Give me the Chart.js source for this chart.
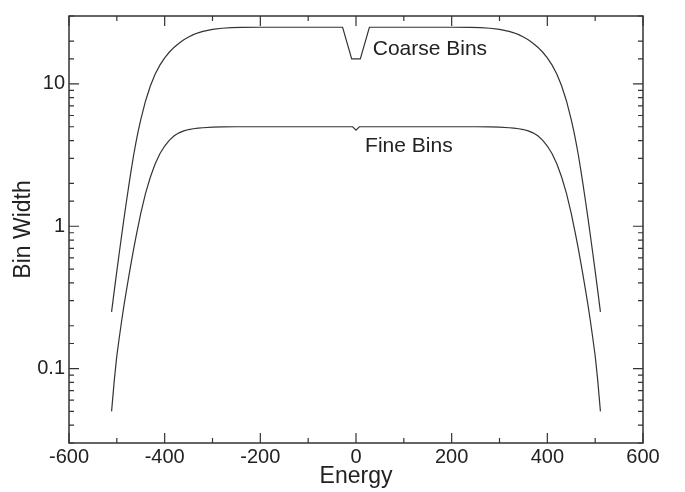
<!DOCTYPE html>
<html>
<head>
<meta charset="utf-8">
<script src="https://cdn.jsdelivr.net/npm/chart.js@4"></script>
<style>
  html, body { margin: 0; padding: 0; background: #fff; }
  #wrap { width: 685px; height: 492px; }
</style>
</head>
<body>
<div id="wrap"><canvas id="binChart" width="685" height="492"></canvas></div>
<script>
// values (energy vs bin width, log y)
const coarseEnergy = [-511, -505, -500, -495, -490, -485, -480, -475, -470, -465, -460, -455, -450, -440, -430, -420, -410, -400, -390, -380, -370, -360, -350, -340, -330, -320, -300, -280, -260, -240, -200, -150, -100, -50, -28, -9,
  9, 28, 50, 100, 150, 200, 240, 260, 280, 300, 320, 330, 340, 350, 360, 370, 380, 390, 400, 410, 420, 430, 440, 450, 455, 460, 465, 470, 475, 480, 485, 490, 495, 500, 505, 511];
const coarseWidth = [0.25, 0.36, 0.484, 0.646, 0.861, 1.135, 1.486, 1.93, 2.48, 3.14, 3.89, 4.72, 5.62, 7.59, 9.66, 11.69, 13.55, 15.24, 16.75, 18.11, 19.32, 20.42, 21.38, 22.18, 22.86, 23.39, 24.15, 24.6, 24.83, 24.94, 25, 25, 25, 25, 25, 15,
  15, 25, 25, 25, 25, 25, 24.94, 24.83, 24.6, 24.15, 23.39, 22.86, 22.18, 21.38, 20.42, 19.32, 18.11, 16.75, 15.24, 13.55, 11.69, 9.66, 7.59, 5.62, 4.72, 3.89, 3.14, 2.48, 1.93, 1.486, 1.135, 0.861, 0.646, 0.484, 0.36, 0.25];

const fineEnergy = [-511, -505, -500, -495, -490, -485, -480, -475, -470, -465, -460, -450, -440, -430, -420, -410, -400, -390, -380, -370, -360, -350, -340, -330, -320, -300, -280, -250, -200, -100, -7, 0,
  7, 100, 200, 250, 280, 300, 320, 330, 340, 350, 360, 370, 380, 390, 400, 410, 420, 430, 440, 450, 460, 465, 470, 475, 480, 485, 490, 495, 500, 505, 511];
const fineWidth = [0.05, 0.085, 0.123, 0.164, 0.216, 0.279, 0.353, 0.445, 0.556, 0.689, 0.841, 1.23, 1.70, 2.21, 2.74, 3.23, 3.66, 4.03, 4.32, 4.53, 4.68, 4.78, 4.84, 4.89, 4.92, 4.97, 4.99, 5, 5, 5, 5, 4.73,
  5, 5, 5, 5, 4.99, 4.97, 4.92, 4.89, 4.84, 4.78, 4.68, 4.53, 4.32, 4.03, 3.66, 3.23, 2.74, 2.21, 1.70, 1.23, 0.841, 0.689, 0.556, 0.445, 0.353, 0.279, 0.216, 0.164, 0.123, 0.085, 0.05];

const curveLabels = ['Coarse Bins', 'Fine Bins'];
const curveLabelX = [35, 19];
const curveLabelY = [17.4, 3.68];

const FONT = '"Liberation Sans", Arial, Helvetica, sans-serif';
const INK = '#222';

function toPoints(xs, ys) {
  return xs.map((x, i) => ({ x: x, y: ys[i] }));
}

function isDecade(v) {
  const l = Math.log10(v);
  return Math.abs(l - Math.round(l)) < 1e-6;
}

// frame + inward ticks on all four sides, curve captions
const framePlugin = {
  id: 'frame',
  afterDraw(chart) {
    const { ctx, chartArea: a, scales } = chart;
    ctx.save();
    ctx.strokeStyle = '#333';
    ctx.lineWidth = 1.5;
    ctx.strokeRect(a.left, a.top, a.right - a.left, a.bottom - a.top);

    ctx.lineWidth = 1.2;
    ctx.beginPath();
    scales.x.ticks.forEach(t => {
      const px = scales.x.getPixelForValue(t.value);
      const len = t.value % 200 === 0 ? 10 : 5;
      ctx.moveTo(px, a.bottom); ctx.lineTo(px, a.bottom - len);
      ctx.moveTo(px, a.top); ctx.lineTo(px, a.top + len);
    });
    scales.y.ticks.forEach(t => {
      const py = scales.y.getPixelForValue(t.value);
      const len = isDecade(t.value) ? 10 : 5;
      ctx.moveTo(a.left, py); ctx.lineTo(a.left + len, py);
      ctx.moveTo(a.right, py); ctx.lineTo(a.right - len, py);
    });
    ctx.stroke();

    ctx.fillStyle = INK;
    ctx.font = '21px ' + FONT;
    ctx.textBaseline = 'middle';
    ctx.textAlign = 'left';
    curveLabels.forEach((txt, i) => {
      ctx.fillText(txt, scales.x.getPixelForValue(curveLabelX[i]), scales.y.getPixelForValue(curveLabelY[i]));
    });
    ctx.restore();
  }
};

const ctx = document.getElementById('binChart').getContext('2d');
new Chart(ctx, {
  type: 'scatter',
  data: {
    datasets: [
      {
        label: 'Coarse Bins',
        data: toPoints(coarseEnergy, coarseWidth),
        showLine: true,
        borderColor: '#333',
        borderWidth: 1.2,
        pointRadius: 0,
        tension: 0
      },
      {
        label: 'Fine Bins',
        data: toPoints(fineEnergy, fineWidth),
        showLine: true,
        borderColor: '#333',
        borderWidth: 1.2,
        pointRadius: 0,
        tension: 0
      }
    ]
  },
  options: {
    responsive: false,
    animation: false,
    layout: { padding: { top: 12, right: 42, left: 0, bottom: 0 } },
    plugins: {
      legend: { display: false },
      tooltip: { enabled: false }
    },
    scales: {
      x: {
        type: 'linear',
        min: -600,
        max: 600,
        grid: { display: false, drawTicks: false },
        border: { display: false },
        ticks: {
          stepSize: 100,
          autoSkip: false,
          maxRotation: 0,
          padding: 2,
          color: INK,
          font: { family: FONT, size: 20 },
          callback: v => (v % 200 === 0 ? String(v) : '')
        },
        title: {
          display: true,
          text: 'Energy',
          color: INK,
          font: { family: FONT, size: 23 },
          padding: { top: 0, bottom: 2 }
        },
        afterFit: s => { s.height = 49; }
      },
      y: {
        type: 'logarithmic',
        min: 0.03,
        max: 30,
        grid: { display: false, drawTicks: false },
        border: { display: false },
        ticks: {
          autoSkip: false,
          padding: 4,
          color: INK,
          font: { family: FONT, size: 20 },
          callback: v => (isDecade(v) ? String(v) : '')
        },
        title: {
          display: true,
          text: 'Bin Width',
          color: INK,
          font: { family: FONT, size: 23 },
          padding: { top: 10, bottom: 0 }
        },
        afterFit: s => { s.width = 69; }
      }
    }
  },
  plugins: [framePlugin]
});
</script>
</body>
</html>
